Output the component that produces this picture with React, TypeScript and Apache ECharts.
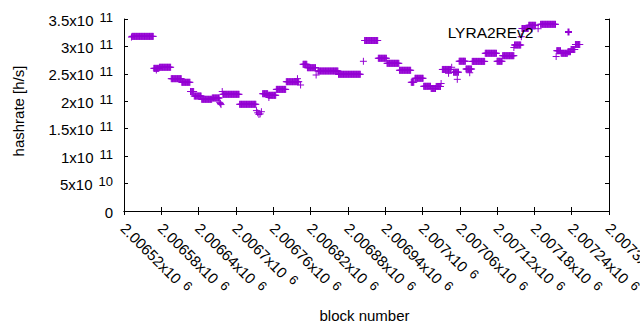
import React, { useEffect, useRef } from 'react';
import * as echarts from 'echarts';

// Runs of consecutive blocks sharing the same estimated hashrate (×1e11 h/s)
const blockStart = [
  2006532, 2006533, 2006568, 2006572, 2006577, 2006596, 2006613, 2006627, 2006633, 2006645,
  2006662, 2006674, 2006675, 2006676, 2006678, 2006679, 2006706, 2006733, 2006735, 2006737,
  2006739, 2006741, 2006743, 2006752, 2006753, 2006765, 2006781, 2006799, 2006804, 2006808,
  2006815, 2006829, 2006832, 2006865, 2006905, 2006907, 2006929, 2006943, 2006963, 2006982,
  2006988, 2007002, 2007014, 2007022, 2007030, 2007032, 2007042, 2007047, 2007050, 2007056,
  2007059, 2007070, 2007076, 2007080, 2007101, 2007120, 2007129, 2007147, 2007148, 2007159,
  2007160, 2007171, 2007176, 2007186, 2007190, 2007215, 2007216, 2007223, 2007234, 2007239,
  2007246,
];
const blockEnd = [
  2006532, 2006567, 2006576, 2006572, 2006595, 2006612, 2006626, 2006632, 2006644, 2006661,
  2006673, 2006674, 2006675, 2006676, 2006678, 2006705, 2006732, 2006733, 2006735, 2006737,
  2006739, 2006741, 2006751, 2006764, 2006753, 2006780, 2006801, 2006799, 2006804, 2006814,
  2006828, 2006829, 2006864, 2006900, 2006905, 2006928, 2006942, 2006962, 2006981, 2006986,
  2007001, 2007013, 2007021, 2007029, 2007030, 2007045, 2007042, 2007047, 2007058, 2007056,
  2007069, 2007079, 2007076, 2007100, 2007119, 2007128, 2007147, 2007147, 2007158, 2007159,
  2007170, 2007182, 2007176, 2007186, 2007214, 2007215, 2007222, 2007233, 2007238, 2007245,
  2007253,
];
const hashrateE11 = [
  3.17, 3.183, 2.6, 2.57, 2.62, 2.412, 2.346, 2.178, 2.096, 2.036,
  2.06, 1.98, 1.96, 1.94, 2.178, 2.127, 1.945, 1.83, 1.79, 1.76,
  1.77, 1.81, 2.138, 2.109, 2.069, 2.217, 2.357, 2.412, 2.297, 2.674,
  2.612, 2.479, 2.552, 2.492, 2.729, 3.108, 2.784, 2.692, 2.565, 2.346,
  2.419, 2.273, 2.233, 2.27, 2.324, 2.58, 2.51, 2.62, 2.53, 2.4,
  2.73, 2.588, 2.52, 2.727, 2.875, 2.729, 2.831, 2.98, 3.026, 3.177,
  3.327, 3.385, 3.318, 3.323, 3.403, 2.816, 2.922, 2.875, 2.904, 2.944,
  3.035,
];

const seriesName = 'LYRA2REv2';
const xMin = 2006520;
const xMax = 2007300;
const xStep = 60;
const yMin = 0;
const yMax = 3.5e11;
const yStep = 5e10;

const FONT = '"Liberation Sans", Arial, sans-serif';
const PURPLE = '#9400d3';
const PLUS = 'path://M0,3.5L7,3.5M3.5,0L3.5,7';

function buildPoints(): number[][] {
  const pts: number[][] = [];
  for (let i = 0; i < blockStart.length; i++) {
    for (let b = blockStart[i]; b <= blockEnd[i]; b++) {
      pts.push([b, hashrateE11[i] * 1e11]);
    }
  }
  return pts;
}

function sci(v: number): string {
  if (v === 0) return '{m|0}';
  const e = Math.floor(Math.log10(v) + 1e-9);
  const m = parseFloat((v / Math.pow(10, e)).toFixed(6));
  return `{m|${m}x10}{s|${e}}`;
}

function blockLabel(v: number): string {
  const m = parseFloat((v / 1e6).toFixed(6));
  return `{m|${m}x10}{s|6}`;
}

const rich = {
  m: { fontSize: 15, fontFamily: FONT, color: '#000', lineHeight: 17, verticalAlign: 'bottom' },
  s: { fontSize: 13, fontFamily: FONT, color: '#000', lineHeight: 10, verticalAlign: 'top', padding: [0, 0, 0, 6] },
};

export default function App() {
  const ref = useRef<HTMLDivElement>(null);
  useEffect(() => {
    document.body.style.margin = '0';
    if (!ref.current) return;
    const chart = echarts.init(ref.current, undefined, { renderer: 'svg' });
    const axisLine = { show: true, lineStyle: { color: '#000', width: 1 } };
    const axisTick = { show: true, inside: true, length: 4, lineStyle: { color: '#000', width: 1 } };
    chart.setOption({
      animation: false,
      backgroundColor: '#fff',
      grid: { left: 124, right: 31, top: 19, bottom: 119, containLabel: false, outerBoundsMode: 'none' },
      legend: {
        data: [{ name: seriesName, icon: PLUS }],
        right: 67,
        top: 24,
        padding: 0,
        align: 'right',
        itemWidth: 60,
        itemHeight: 7,
        textStyle: { fontSize: 15.5, fontFamily: FONT, color: '#000' },
      },
      xAxis: [
        {
          type: 'value', position: 'bottom', min: xMin, max: xMax, interval: xStep,
          axisLine, axisTick, splitLine: { show: false },
          axisLabel: { rotate: -45, margin: 14, formatter: blockLabel, rich },
          name: 'block number', nameLocation: 'middle', nameGap: 97,
          nameTextStyle: { fontSize: 15, fontFamily: FONT, color: '#000', padding: [0, 4, 0, 0] },
        },
        {
          type: 'value', position: 'top', min: xMin, max: xMax, interval: xStep,
          axisLine, axisTick, splitLine: { show: false }, axisLabel: { show: false },
        },
      ],
      yAxis: [
        {
          type: 'value', position: 'left', min: yMin, max: yMax, interval: yStep,
          axisLine, axisTick, splitLine: { show: false },
          axisLabel: { margin: 11, formatter: sci, rich },
          name: 'hashrate [h/s]', nameLocation: 'middle', nameGap: 98,
          nameTextStyle: { fontSize: 15, fontFamily: FONT, color: '#000', padding: [0, 0, 0, 8] },
        },
        {
          type: 'value', position: 'right', min: yMin, max: yMax, interval: yStep,
          axisLine, axisTick, splitLine: { show: false }, axisLabel: { show: false },
        },
      ],
      series: [
        {
          name: seriesName,
          type: 'scatter',
          xAxisIndex: 0,
          yAxisIndex: 0,
          symbol: PLUS,
          symbolSize: 7,
          data: buildPoints(),
          itemStyle: { color: PURPLE, borderColor: PURPLE, borderWidth: 1, opacity: 1 },
          emphasis: { disabled: true },
        },
      ],
    });
    return () => chart.dispose();
  }, []);
  return <div ref={ref} style={{ width: 640, height: 330 }} />;
}
